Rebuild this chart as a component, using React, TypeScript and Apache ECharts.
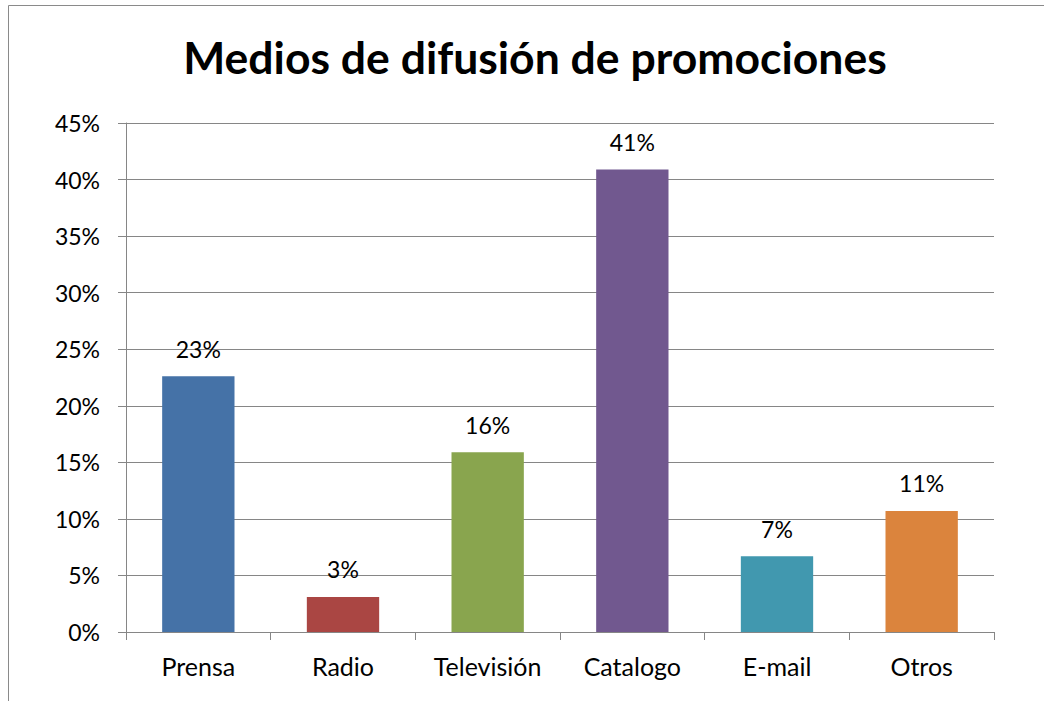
import React, { useEffect, useRef } from "react";
import * as echarts from "echarts";

const categories = ["Prensa", "Radio", "Televisión", "Catalogo", "E-mail", "Otros"];
const values = [22.6, 3.1, 15.9, 40.9, 6.7, 10.7];
const barColors = ["#4572A7", "#AA4643", "#89A54E", "#71588F", "#4198AF", "#DB843D"];
const yTicks = [0, 5, 10, 15, 20, 25, 30, 35, 40, 45];

const FONT = "Lato, 'Open Sans', sans-serif";

export default function App() {
  const ref = useRef<HTMLDivElement>(null);
  useEffect(() => {
    document.body.style.margin = "0";
    const chart = echarts.init(ref.current!, null, { renderer: "svg" });
    chart.setOption({
      animation: false,
      backgroundColor: "#ffffff",
      graphic: [
        {
          type: "rect",
          shape: { x: 8.5, y: 5.5, width: 1200, height: 900 },
          style: { fill: "none", stroke: "#8a8a8a", lineWidth: 1 },
          silent: true,
        },
      ],
      title: {
        text: "Medios de difusión de promociones",
        left: 530,
        top: 29,
        textAlign: "center",
        textStyle: { fontFamily: FONT, fontWeight: "bold", fontSize: 44.5, color: "#000000" },
      },
      grid: { left: 126, right: 50, top: 123, bottom: 69 },
      xAxis: {
        type: "category",
        data: categories,
        boundaryGap: true,
        axisLine: { lineStyle: { color: "#868686", width: 1 } },
        axisTick: { show: true, length: 8, lineStyle: { color: "#868686" } },
        axisLabel: { fontFamily: FONT, fontSize: 25, color: "#000000", margin: 21 },
      },
      yAxis: {
        type: "value",
        min: yTicks[0],
        max: yTicks[yTicks.length - 1],
        interval: 5,
        axisLine: { show: true, lineStyle: { color: "#868686", width: 1 } },
        axisTick: { show: true, length: 8, lineStyle: { color: "#868686" } },
        splitLine: { lineStyle: { color: "#868686", width: 1 } },
        axisLabel: {
          fontFamily: FONT,
          fontSize: 23,
          color: "#000000",
          margin: 26,
          formatter: (v: number) => `${v}%`,
        },
      },
      series: [
        {
          type: "bar",
          barWidth: "50%",
          data: values.map((v, i) => ({ value: v, itemStyle: { color: barColors[i] } })),
          label: {
            show: true,
            position: "top",
            distance: 16,
            fontFamily: FONT,
            fontSize: 23,
            color: "#000000",
            formatter: (p: any) => `${Math.round(p.value)}%`,
          },
        },
      ],
    });
    return () => chart.dispose();
  }, []);
  return <div ref={ref} style={{ width: 1044, height: 701 }} />;
}
